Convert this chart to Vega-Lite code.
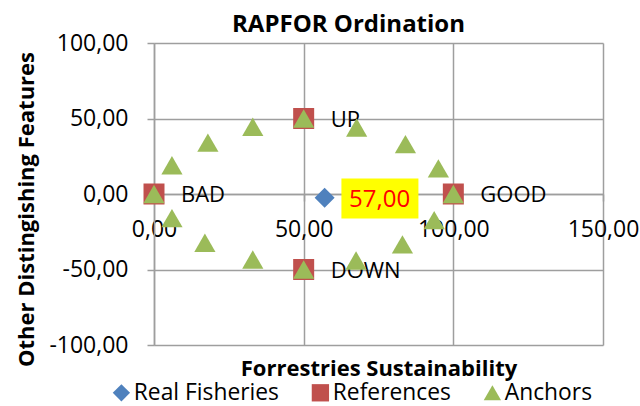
{
  "$schema": "https://vega.github.io/schema/vega-lite/v6.json",
  "width": 449,
  "height": 302,
  "autosize": {"type": "none"},
  "padding": {"left": 154, "top": 43, "right": 37, "bottom": 61},
  "background": "white",
  "title": {
    "text": "RAPFOR Ordination",
    "anchor": "middle",
    "frame": "group",
    "font": "Open Sans",
    "fontSize": 24,
    "fontWeight": "bold",
    "color": "black",
    "baseline": "alphabetic",
    "offset": 0,
    "dx": -30,
    "dy": 24
  },
  "datasets": {
    "pts": [
      {"series": "Real Fisheries", "x": 57, "y": -2.5, "label": "57,00"},
      {"series": "References", "x": 0, "y": 0, "label": "BAD"},
      {"series": "References", "x": 100, "y": 0, "label": "GOOD"},
      {"series": "References", "x": 50, "y": 50, "label": "UP"},
      {"series": "References", "x": 50, "y": -50, "label": "DOWN"},
      {"series": "Anchors", "x": 0, "y": 0, "label": ""},
      {"series": "Anchors", "x": 6, "y": 19, "label": ""},
      {"series": "Anchors", "x": 18, "y": 34, "label": ""},
      {"series": "Anchors", "x": 33, "y": 44.5, "label": ""},
      {"series": "Anchors", "x": 50, "y": 50, "label": ""},
      {"series": "Anchors", "x": 67.7, "y": 44, "label": ""},
      {"series": "Anchors", "x": 84, "y": 33, "label": ""},
      {"series": "Anchors", "x": 95, "y": 17, "label": ""},
      {"series": "Anchors", "x": 100, "y": 0, "label": ""},
      {"series": "Anchors", "x": 93.6, "y": -17.3, "label": ""},
      {"series": "Anchors", "x": 83, "y": -33.4, "label": ""},
      {"series": "Anchors", "x": 67.5, "y": -44, "label": ""},
      {"series": "Anchors", "x": 50, "y": -50, "label": ""},
      {"series": "Anchors", "x": 33, "y": -43.4, "label": ""},
      {"series": "Anchors", "x": 17, "y": -32.3, "label": ""},
      {"series": "Anchors", "x": 6, "y": -16, "label": ""}
    ]
  },
  "data": {"name": "pts"},
  "encoding": {
    "x": {
      "field": "x",
      "type": "quantitative",
      "scale": {"domain": [0, 150], "nice": false, "zero": false},
      "axis": {
        "values": [0, 50, 100, 150],
        "labelExpr": "replace((datum.value < 0 ? '-' : '') + format(abs(datum.value), '.2f'), '.', ',')",
        "offset": -151,
        "tickSize": 7,
        "labelPadding": 17,
        "labelFont": "Open Sans",
        "labelFontSize": 23,
        "labelColor": "black",
        "labelFlush": false,
        "labelOverlap": false,
        "domainColor": "#9e9e9e",
        "domainWidth": 1.5,
        "tickColor": "#9e9e9e",
        "tickWidth": 1.5,
        "gridColor": "#9e9e9e",
        "gridWidth": 1.5,
        "title": "Forrestries Sustainability",
        "titleFont": "Open Sans",
        "titleFontSize": 22,
        "titleFontWeight": "bold",
        "titleColor": "black",
        "titleX": 224.5,
        "titleY": 181,
        "titleAlign": "center",
        "titleBaseline": "alphabetic"
      }
    },
    "y": {
      "field": "y",
      "type": "quantitative",
      "scale": {"domain": [-100, 100], "nice": false},
      "axis": {
        "values": [-100, -50, 0, 50, 100],
        "labelExpr": "replace((datum.value < 0 ? '-' : '') + format(abs(datum.value), '.2f'), '.', ',')",
        "tickSize": 7,
        "labelPadding": 19,
        "labelFont": "Open Sans",
        "labelFontSize": 23,
        "labelColor": "black",
        "labelFlush": false,
        "labelOverlap": false,
        "domainColor": "#9e9e9e",
        "domainWidth": 1.5,
        "tickColor": "#9e9e9e",
        "tickWidth": 1.5,
        "gridColor": "#9e9e9e",
        "gridWidth": 1.5,
        "title": "Other Distingishing Features",
        "titleFont": "Open Sans",
        "titleFontSize": 22,
        "titleFontWeight": "bold",
        "titleColor": "black",
        "titleAngle": 270,
        "titleX": -121,
        "titleY": 166,
        "titleAlign": "center",
        "titleBaseline": "alphabetic"
      }
    }
  },
  "layer": [
    {
      "transform": [{"filter": "datum.series === 'Real Fisheries'"}],
      "mark": {"type": "point", "filled": true, "size": 400, "opacity": 1},
      "encoding": {
        "color": {"field": "series", "type": "nominal", "title": null,
          "scale": {"domain": ["Real Fisheries", "References", "Anchors"], "range": ["#4F81BD", "#C0504D", "#9BBB59"]}},
        "shape": {"field": "series", "type": "nominal", "title": null,
          "scale": {"domain": ["Real Fisheries", "References", "Anchors"], "range": ["diamond", "square", "triangle-up"]}}
      }
    },
    {
      "transform": [{"filter": "datum.series === 'References'"}],
      "mark": {"type": "point", "filled": true, "size": 441, "opacity": 1},
      "encoding": {
        "color": {"field": "series", "type": "nominal", "title": null},
        "shape": {"field": "series", "type": "nominal", "title": null}
      }
    },
    {
      "transform": [{"filter": "datum.series === 'References'"}],
      "mark": {"type": "text", "align": "left", "baseline": "middle", "dx": 27, "dy": 1, "font": "Open Sans", "fontSize": 22, "color": "black"},
      "encoding": {"text": {"field": "label", "type": "nominal"}}
    },
    {
      "transform": [{"filter": "datum.series === 'Anchors'"}],
      "mark": {"type": "point", "filled": true, "size": 450, "opacity": 1},
      "encoding": {
        "color": {"field": "series", "type": "nominal", "title": null},
        "shape": {"field": "series", "type": "nominal", "title": null}
      }
    },
    {
      "transform": [{"filter": "datum.series === 'Real Fisheries'"}],
      "mark": {"type": "point", "filled": true, "size": 6400, "opacity": 1, "color": "#FFFF00", "shape": "M0.42,-0.48H2.345V0.52H0.42Z"}
    },
    {
      "transform": [{"filter": "datum.series === 'Real Fisheries'"}],
      "mark": {"type": "text", "align": "center", "baseline": "middle", "dx": 55, "dy": 2, "font": "Open Sans", "fontSize": 24, "color": "#FF0000"},
      "encoding": {"text": {"field": "label", "type": "nominal"}}
    }
  ],
  "config": {
    "view": {"stroke": null},
    "legend": {
      "orient": "none",
      "legendX": -44,
      "legendY": 338,
      "direction": "horizontal",
      "padding": 0,
      "labelFont": "Open Sans",
      "labelFontSize": 22.8,
      "labelColor": "black",
      "labelOffset": 1,
      "columnPadding": 30,
      "symbolSize": 300,
      "symbolStrokeWidth": 0,
      "symbolOpacity": 1,
      "labelLimit": 400
    }
  }
}
